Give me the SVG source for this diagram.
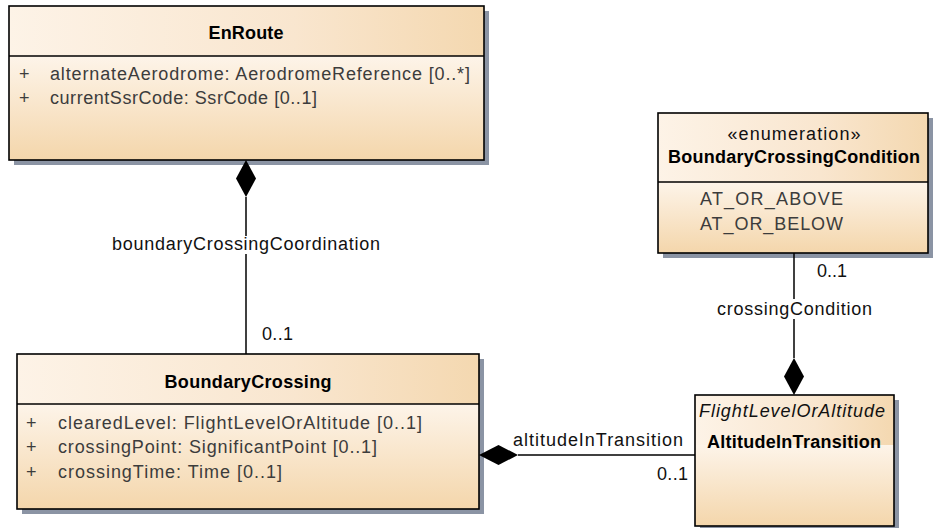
<svg xmlns="http://www.w3.org/2000/svg" width="933" height="528" viewBox="0 0 933 528">
<defs>
<linearGradient id="gh" x1="0" y1="0" x2="1" y2="0"><stop offset="0" stop-color="#fdf3e7"/><stop offset="0.6" stop-color="#f9e6cf"/><stop offset="1" stop-color="#f4d8b0"/></linearGradient>
<linearGradient id="gb" x1="0" y1="0" x2="0" y2="1"><stop offset="0" stop-color="#fdf4e9"/><stop offset="1" stop-color="#f4d6ab"/></linearGradient>
<style>
.sh{fill:#8b94a4}
.ol{fill:none;stroke:#000;stroke-width:1.6}
.dv{stroke:#000;stroke-width:1.6}
text{font-family:"Liberation Sans",Arial,sans-serif;font-size:18px}
.t{font-weight:bold;fill:#000;text-anchor:middle}
.st{fill:#111;text-anchor:middle}
.it{font-style:italic;fill:#111;text-anchor:middle}
.a{fill:#3c3c3c}
.l{fill:#111}
.cn{stroke:#000;stroke-width:1.5;fill:none}
.dm{fill:#000}
.bg{fill:#fff}
</style>
</defs>

<g id="EnRoute">
<rect class="sh" x="14" y="11" width="475" height="154"/>
<rect x="9" y="6" width="475" height="50" fill="url(#gh)"/>
<rect x="9" y="56" width="475" height="104" fill="url(#gb)"/>
<rect class="ol" x="9" y="6" width="475" height="154"/>
<line class="dv" x1="9" y1="56" x2="484" y2="56"/>
<text class="t" x="246" y="39" textLength="75">EnRoute</text>
<text class="a" x="19" y="80">+</text>
<text class="a" x="50" y="80" textLength="420">alternateAerodrome: AerodromeReference [0..*]</text>
<text class="a" x="19" y="104">+</text>
<text class="a" x="50" y="104" textLength="267">currentSsrCode: SsrCode [0..1]</text>
</g>

<g id="BoundaryCrossing">
<rect class="sh" x="22" y="359" width="462" height="155"/>
<rect x="17" y="354" width="462" height="50" fill="url(#gh)"/>
<rect x="17" y="404" width="462" height="105" fill="url(#gb)"/>
<rect class="ol" x="17" y="354" width="462" height="155"/>
<line class="dv" x1="17" y1="404" x2="479" y2="404"/>
<text class="t" x="248" y="388" textLength="167">BoundaryCrossing</text>
<text class="a" x="26" y="429">+</text>
<text class="a" x="58" y="429" textLength="364">clearedLevel: FlightLevelOrAltitude [0..1]</text>
<text class="a" x="26" y="453">+</text>
<text class="a" x="58" y="453" textLength="319">crossingPoint: SignificantPoint [0..1]</text>
<text class="a" x="26" y="478">+</text>
<text class="a" x="58" y="478" textLength="224">crossingTime: Time [0..1]</text>
</g>

<g id="BoundaryCrossingCondition">
<rect class="sh" x="663" y="118" width="270" height="140"/>
<rect x="658" y="113" width="270" height="69" fill="url(#gh)"/>
<rect x="658" y="182" width="270" height="71" fill="url(#gb)"/>
<rect class="ol" x="658" y="113" width="270" height="140"/>
<line class="dv" x1="658" y1="182" x2="928" y2="182"/>
<text class="st" x="794" y="140" textLength="133">«enumeration»</text>
<text class="t" x="794" y="163" textLength="252">BoundaryCrossingCondition</text>
<text class="a" x="700" y="205" textLength="143">AT_OR_ABOVE</text>
<text class="a" x="700" y="230" textLength="143">AT_OR_BELOW</text>
</g>

<g id="AltitudeInTransition">
<rect class="sh" x="700" y="400" width="199" height="131"/>
<rect x="695" y="395" width="199" height="50" fill="url(#gh)"/>
<rect x="695" y="445" width="199" height="81" fill="url(#gb)"/>
<rect class="ol" x="695" y="395" width="199" height="131"/>
<text class="it" x="792" y="417" textLength="186">FlightLevelOrAltitude</text>
<text class="t" x="794" y="448" textLength="174">AltitudeInTransition</text>
</g>

<g id="connectors">
<line class="cn" x1="246" y1="197" x2="246" y2="354"/>
<path class="dm" d="M246,160 L256,178.5 L246,197 L236,178.5 Z"/>
<rect class="bg" x="112" y="236" width="268" height="18"/>
<text class="l" x="112" y="250" textLength="268">boundaryCrossingCoordination</text>
<text class="l" x="262" y="340" textLength="31">0..1</text>

<line class="cn" x1="794" y1="253" x2="794" y2="358"/>
<path class="dm" d="M794,358 L804,376.5 L794,395 L784,376.5 Z"/>
<rect class="bg" x="717" y="299" width="155" height="20"/>
<text class="l" x="717" y="315" textLength="155">crossingCondition</text>
<text class="l" x="817" y="277" textLength="30">0..1</text>

<line class="cn" x1="518" y1="455" x2="695" y2="455"/>
<path class="dm" d="M479,455 L498.5,445 L518,455 L498.5,465 Z"/>
<text class="l" x="513" y="446" textLength="170">altitudeInTransition</text>
<text class="l" x="657" y="480" textLength="31">0..1</text>
</g>
</svg>
